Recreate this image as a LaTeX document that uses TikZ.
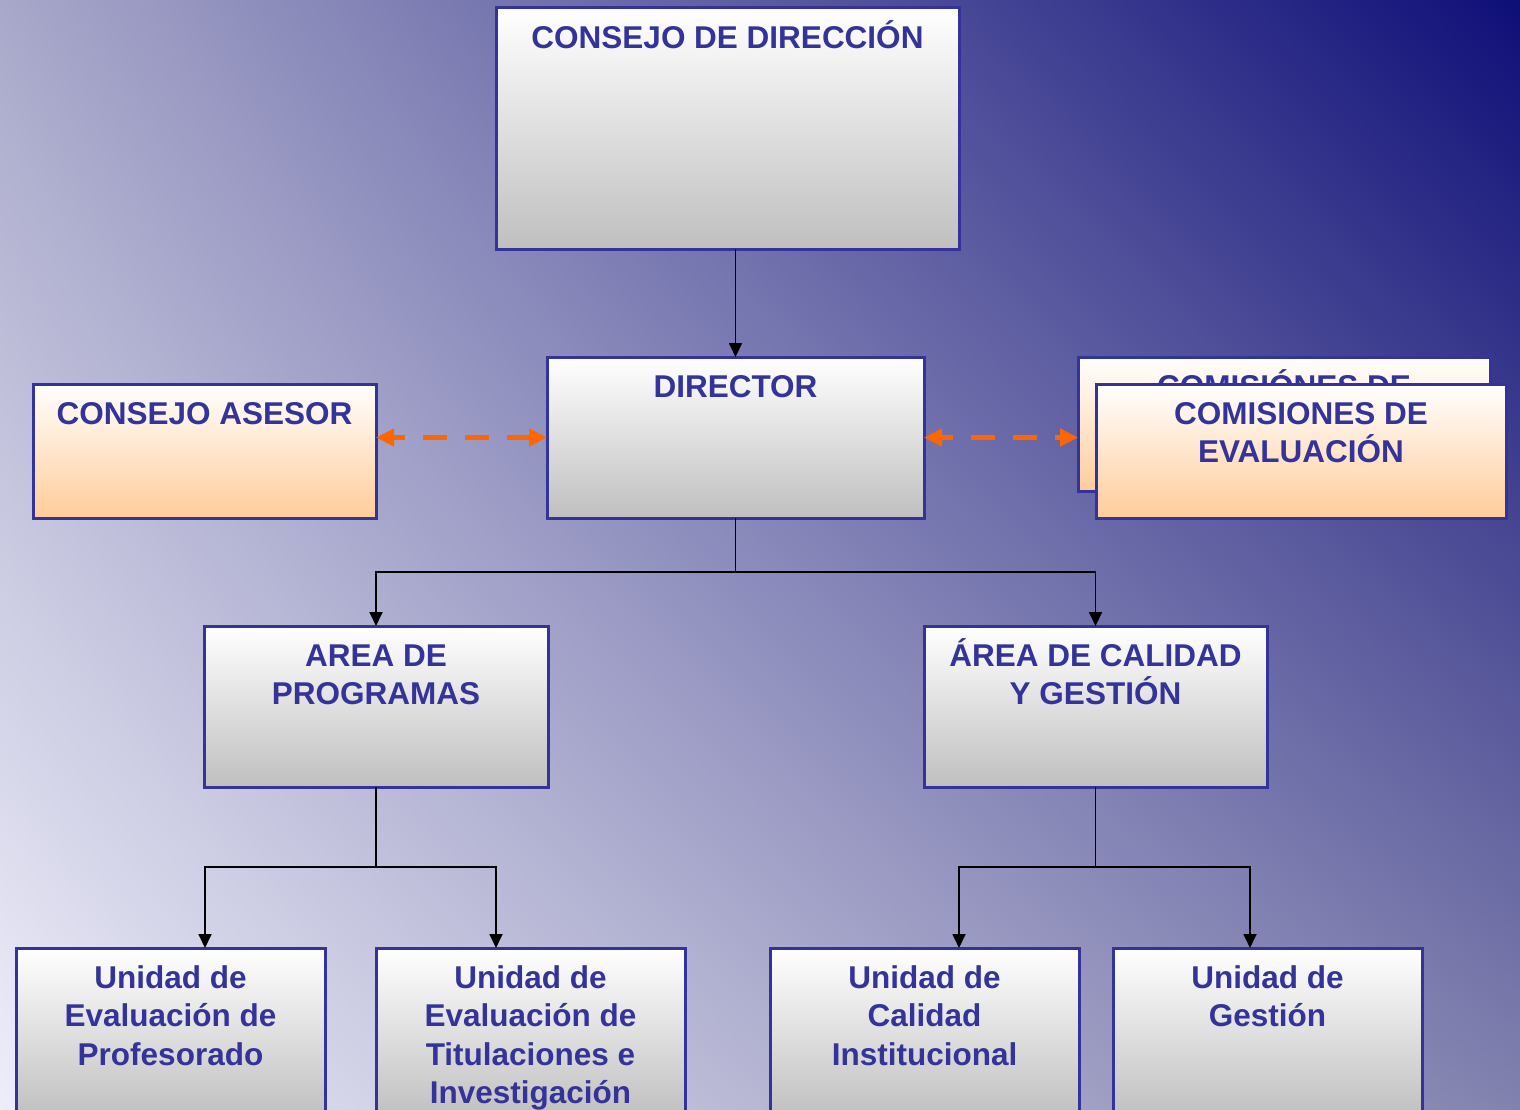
\documentclass[tikz,border=0pt]{standalone}
\usepackage{fontspec}
\setmainfont{Liberation Sans}
\usetikzlibrary{arrows.meta,shadings}
\definecolor{navy}{RGB}{51,51,153}
\definecolor{bgll}{RGB}{238,238,250}
\definecolor{bgur}{RGB}{14,14,120}
\definecolor{bgul}{RGB}{168,168,202}
\definecolor{bglr}{RGB}{130,130,175}
\definecolor{peach}{RGB}{255,204,153}
\definecolor{orng}{RGB}{255,102,0}
\begin{document}
\begin{tikzpicture}[x=1pt,y=-1pt,
 gbox/.style={draw=navy, line width=3pt, top color=white, bottom color=black!25, anchor=north west, inner sep=0pt, outer sep=0pt},
 obox/.style={gbox, bottom color=peach},
 lbl/.style={anchor=north, inner sep=0pt, align=center, text=navy, font=\fontsize{31.5}{38.5}\selectfont\bfseries},
 conn/.style={line width=1.8pt, draw=black},
 arr/.style={conn, -{Triangle[length=14pt,width=13pt]}},
 dash2/.style={draw=orng, line width=5pt, dash pattern=on 24pt off 18pt, dash phase=12pt, {Triangle[length=18pt,width=17pt]}-{Triangle[length=18pt,width=17pt]}}]
\clip (0,0) rectangle (1520,1110);
\shade[upper left=bgul, upper right=bgur, lower left=bgll, lower right=bglr] (0,0) rectangle (1520,1110);

% boxes
\node[gbox, minimum width=463pt, minimum height=241pt] (cd) at (496,8) {};
\node[lbl] (tcd) at ([yshift=-10pt]cd.north) {\rule{0pt}{30pt}CONSEJO DE DIRECCIÓN};

\node[gbox, minimum width=377pt, minimum height=161pt] (dir) at (547,357) {};
\node[lbl] (tdir) at ([yshift=-10pt]dir.north) {\rule{0pt}{30pt}DIRECTOR};

\node[obox, minimum width=343pt, minimum height=134pt] (ca) at (33,384) {};
\node[lbl] (tca) at ([yshift=-10pt]ca.north) {\rule{0pt}{30pt}CONSEJO ASESOR};

\node[obox, minimum width=412pt, minimum height=134pt] (cm2) at (1078,357) {};
\node[lbl] (tcm2) at ([yshift=-10pt]cm2.north) {\rule{0pt}{30pt}COMISIÓNES DE};
\node[obox, minimum width=410pt, minimum height=134pt] (cm) at (1096,384) {};
\node[lbl] (tcm) at ([yshift=-10pt]cm.north) {\rule{0pt}{30pt}COMISIONES DE\\EVALUACIÓN};

\node[gbox, minimum width=344pt, minimum height=161pt] (ap) at (204,626) {};
\node[lbl] (tap) at ([yshift=-10pt]ap.north) {\rule{0pt}{30pt}AREA DE\\PROGRAMAS};

\node[gbox, minimum width=343pt, minimum height=161pt] (ac) at (924,626) {};
\node[lbl] (tac) at ([yshift=-10pt]ac.north) {\rule{0pt}{30pt}ÁREA DE CALIDAD\\Y GESTIÓN};

\node[gbox, minimum width=309pt, minimum height=170pt] (b1) at (16,948) {};
\node[lbl] (tb1) at ([yshift=-10pt]b1.north) {\rule{0pt}{30pt}Unidad de\\Evaluación de\\Profesorado};
\node[gbox, minimum width=309pt, minimum height=170pt] (b2) at (376,948) {};
\node[lbl] (tb2) at ([yshift=-10pt]b2.north) {\rule{0pt}{30pt}Unidad de\\Evaluación de\\Titulaciones e\\Investigación};
\node[gbox, minimum width=309pt, minimum height=170pt] (b3) at (770,948) {};
\node[lbl] (tb3) at ([yshift=-10pt]b3.north) {\rule{0pt}{30pt}Unidad de\\Calidad\\Institucional};
\node[gbox, minimum width=309pt, minimum height=170pt] (b4) at (1113,948) {};
\node[lbl] (tb4) at ([yshift=-10pt]b4.north) {\rule{0pt}{30pt}Unidad de\\Gestión};

% connectors
\draw[arr] (dir.north |- cd.south) -- (dir.north);
\coordinate (j1) at (dir.south |- 0,572);
\draw[conn] (dir.south) -- (j1);
\draw[arr] (j1) -| (ap.north);
\draw[arr] (j1) -| (ac.north);
\coordinate (j2) at (ap.south |- 0,867);
\draw[conn] (ap.south) -- (j2);
\draw[arr] (j2) -| ([xshift=34.5pt]b1.north);
\draw[arr] (j2) -| ([xshift=-34.5pt]b2.north);
\coordinate (j3) at (ac.south |- 0,867);
\draw[conn] (ac.south) -- (j3);
\draw[arr] (j3) -| ([xshift=34.5pt]b3.north);
\draw[arr] (j3) -| ([xshift=-17.5pt]b4.north);

\draw[dash2] (ca.east |- dir.west) -- (dir.west);
\draw[dash2] (dir.east) -- (dir.east -| cm2.west);
\end{tikzpicture}
\end{document}
